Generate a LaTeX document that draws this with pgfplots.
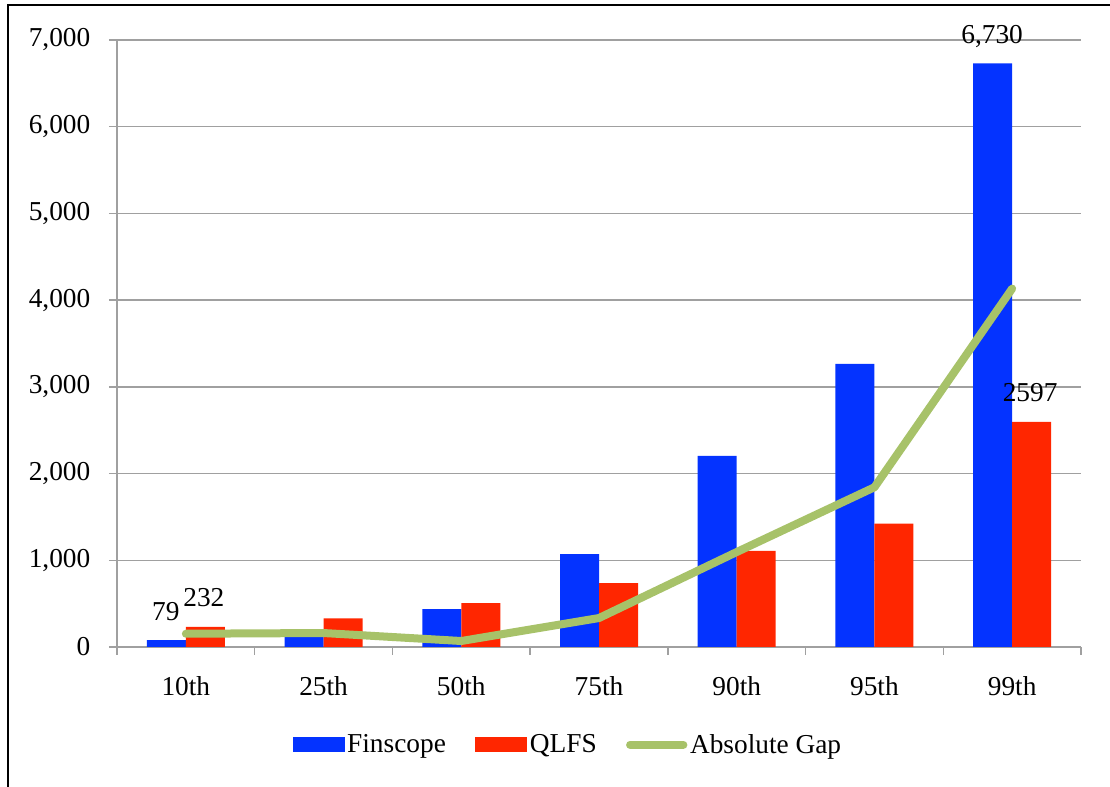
\documentclass[border=0pt]{standalone}
\usepackage{pgfplots}
\pgfplotsset{compat=1.18}
\usepackage{fontspec}
\setmainfont{Liberation Serif}
\definecolor{fblue}{RGB}{4,51,255}
\definecolor{qred}{RGB}{255,38,0}
\definecolor{ggreen}{RGB}{167,194,105}
\definecolor{gridgray}{RGB}{160,160,160}
\begin{document}
\begin{tikzpicture}
\useasboundingbox (0,0) rectangle (832.5pt,590.25pt);
\draw[line width=1.5pt] (6pt,0) -- (6pt,586.5pt) -- (832.5pt,586.5pt);
\begin{axis}[
  at={(87.75pt,105pt)}, anchor=south west,
  scale only axis, width=723pt, height=455.25pt,
  xmin=-0.5, xmax=6.5, ymin=0, ymax=7000,
  clip=false,
  axis x line*=bottom, axis y line*=left,
  axis line style={gridgray, line width=1.1pt},
  ymajorgrids, grid style={gridgray, line width=1.1pt},
  ytick={0,1000,...,7000},
  xtick={-0.5,0.5,...,6.5}, x tick label as interval,
  xticklabels={10th,25th,50th,75th,90th,95th,99th},
  tick align=outside, major tick length=6pt,
  tick style={gridgray, line width=1.1pt},
  font=\fontsize{20.5}{24}\selectfont,
  yticklabel style={xshift=-10.5pt},
  xticklabel style={yshift=-12.5pt},
  /pgf/number format/1000 sep={,},
  /pgf/number format/assume math mode=true,
  legend columns=3,
  legend style={at={(0.468,-0.161)}, anchor=center, draw=none, fill=none,
    /tikz/every even column/.append style={column sep=20pt}},
  legend cell align=left,
]
\addplot[ybar, bar width=29.25pt, bar shift=-14.625pt, fill=fblue, draw=none,
  legend image code/.code={\fill[fblue] (-2pt,-5.6pt) rectangle (37pt,5.6pt);},
  nodes near coords, point meta=explicit symbolic,
  nodes near coords style={anchor=base, yshift=15pt, xshift=-15pt, black}]
  coordinates {(0,79)[79] (1,170)[] (2,436)[] (3,1070)[] (4,2203)[] (5,3265)[] (6,6730)[6,730]};
\addplot[ybar, bar width=29.25pt, bar shift=14.625pt, fill=qred, draw=none,
  legend image code/.code={\fill[qred] (0pt,-5.6pt) rectangle (39pt,5.6pt);},
  nodes near coords, point meta=explicit symbolic,
  nodes near coords style={anchor=base, yshift=15pt, xshift=13.5pt, black}]
  coordinates {(0,232)[232] (1,331)[] (2,505)[] (3,736)[] (4,1108)[] (5,1423)[] (6,2597)[2597]};
\addplot[ggreen, line width=6pt, line join=round, line cap=round, mark=none,
  legend image code/.code={\draw[ggreen, line width=6pt, line cap=round] (3pt,0pt) -- (43pt,0pt);}]
  coordinates {(0,153) (1,161) (2,69) (3,334) (4,1095) (5,1842) (6,4133)};
\legend{Finscope, QLFS, Absolute Gap}
\end{axis}
\end{tikzpicture}
\end{document}
